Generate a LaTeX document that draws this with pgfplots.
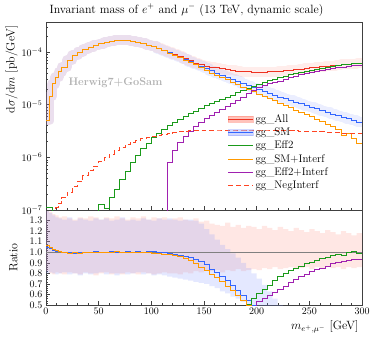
\documentclass[border=0pt]{standalone}
\usepackage{pgfplots}
\pgfplotsset{compat=1.18}
\usepackage{pgfplotstable}
\usepgfplotslibrary{fillbetween}

\definecolor{cAll}{HTML}{EE3322}
\definecolor{cSM}{HTML}{3366FF}
\definecolor{cEff}{HTML}{1A9A1A}
\definecolor{cSMInt}{HTML}{FF9900}
\definecolor{cEffInt}{HTML}{A020B0}
\definecolor{cNeg}{HTML}{FF4422}
\definecolor{bandAll}{HTML}{FF8877}
\definecolor{bandSM}{HTML}{788CFF}

% differential cross sections, 5 GeV bins (finer at threshold)
\pgfplotstableread{
x all sm eff smint effint neg
0 5.0e-6 5.0e-6 1.1e-7 5.0e-6 1e-8 1e-8
3 1.45e-5 1.45e-5 1.1e-7 1.45e-5 1e-8 1e-8
6 2.5e-5 2.5e-5 1e-8 2.5e-5 1e-8 1e-8
9 3.3e-5 3.3e-5 1e-8 3.3e-5 1e-8 1.1e-7
12 4.2e-5 4.2e-5 1e-8 4.2e-5 1e-8 1.35e-7
15 5.2e-5 5.2e-5 1e-8 5.2e-5 1e-8 1.7e-7
20 7.0e-5 7.0e-5 1e-8 7.0e-5 1e-8 2.2e-7
25 8.6e-5 8.6e-5 1e-8 8.6e-5 1e-8 2.8e-7
30 1.0e-4 1.0e-4 1e-8 1.0e-4 1e-8 3.5e-7
35 1.12e-4 1.12e-4 1e-8 1.12e-4 1e-8 4.5e-7
40 1.23e-4 1.23e-4 1e-8 1.23e-4 1e-8 5.6e-7
45 1.34e-4 1.34e-4 1e-8 1.34e-4 1e-8 6.8e-7
50 1.44e-4 1.44e-4 1.3e-7 1.44e-4 1e-8 8.2e-7
55 1.53e-4 1.53e-4 1.05e-7 1.53e-4 1e-8 1.0e-6
60 1.60e-4 1.60e-4 1.7e-7 1.60e-4 1e-8 1.15e-6
65 1.65e-4 1.65e-4 2.5e-7 1.65e-4 1e-8 1.35e-6
70 1.67e-4 1.67e-4 3.8e-7 1.67e-4 1e-8 1.55e-6
75 1.65e-4 1.65e-4 5.5e-7 1.65e-4 1e-8 1.75e-6
80 1.60e-4 1.60e-4 8.0e-7 1.60e-4 1e-8 1.95e-6
85 1.53e-4 1.53e-4 1.1e-6 1.53e-4 1e-8 2.1e-6
90 1.45e-4 1.45e-4 1.45e-6 1.45e-4 1e-8 2.25e-6
95 1.36e-4 1.36e-4 1.85e-6 1.36e-4 1e-8 2.4e-6
100 1.27e-4 1.27e-4 2.4e-6 1.26e-4 1e-8 2.5e-6
105 1.17e-4 1.16e-4 2.9e-6 1.15e-4 1e-8 2.6e-6
110 1.07e-4 1.06e-4 3.4e-6 1.05e-4 1e-8 2.7e-6
115 9.8e-5 9.6e-5 4.0e-6 9.5e-5 8.0e-7 2.85e-6
120 9.0e-5 8.7e-5 4.6e-6 8.6e-5 1.35e-6 2.95e-6
125 8.2e-5 7.9e-5 5.2e-6 7.8e-5 1.9e-6 3.05e-6
130 7.5e-5 7.2e-5 5.9e-6 7.0e-5 2.5e-6 3.15e-6
135 6.8e-5 6.5e-5 6.7e-6 6.3e-5 3.1e-6 3.2e-6
140 6.1e-5 5.9e-5 7.6e-6 5.7e-5 3.8e-6 3.25e-6
145 5.7e-5 5.4e-5 8.5e-6 5.1e-5 4.6e-6 3.25e-6
150 5.4e-5 4.9e-5 9.5e-6 4.5e-5 5.4e-6 3.3e-6
155 5.2e-5 4.4e-5 1.05e-5 3.95e-5 6.3e-6 3.3e-6
160 5.0e-5 3.95e-5 1.15e-5 3.6e-5 7.2e-6 3.3e-6
165 4.8e-5 3.6e-5 1.28e-5 3.25e-5 8.2e-6 3.3e-6
170 4.6e-5 3.3e-5 1.4e-5 2.95e-5 9.4e-6 3.3e-6
175 4.45e-5 3.0e-5 1.52e-5 2.65e-5 1.07e-5 3.3e-6
180 4.35e-5 2.75e-5 1.7e-5 2.4e-5 1.22e-5 3.3e-6
185 4.25e-5 2.5e-5 1.85e-5 2.15e-5 1.4e-5 3.3e-6
190 4.2e-5 2.3e-5 2.05e-5 1.95e-5 1.6e-5 3.3e-6
195 4.15e-5 2.1e-5 2.25e-5 1.75e-5 1.85e-5 3.3e-6
200 4.15e-5 1.95e-5 2.45e-5 1.58e-5 2.1e-5 3.3e-6
205 4.15e-5 1.8e-5 2.65e-5 1.44e-5 2.3e-5 3.3e-6
210 4.2e-5 1.65e-5 2.85e-5 1.3e-5 2.5e-5 3.3e-6
215 4.25e-5 1.52e-5 3.05e-5 1.18e-5 2.65e-5 3.25e-6
220 4.3e-5 1.4e-5 3.25e-5 1.07e-5 2.8e-5 3.25e-6
225 4.4e-5 1.3e-5 3.45e-5 9.6e-6 3.0e-5 3.25e-6
230 4.5e-5 1.2e-5 3.7e-5 8.7e-6 3.25e-5 3.2e-6
235 4.6e-5 1.12e-5 3.95e-5 7.9e-6 3.5e-5 3.2e-6
240 4.75e-5 1.04e-5 4.15e-5 7.1e-6 3.7e-5 3.15e-6
245 4.85e-5 9.6e-6 4.35e-5 6.5e-6 3.9e-5 3.15e-6
250 5.0e-5 8.9e-6 4.55e-5 5.9e-6 4.1e-5 3.1e-6
255 5.1e-5 8.3e-6 4.75e-5 5.3e-6 4.3e-5 3.1e-6
260 5.25e-5 7.7e-6 4.95e-5 4.8e-6 4.5e-5 3.05e-6
265 5.4e-5 7.1e-6 5.15e-5 4.3e-6 4.7e-5 3.0e-6
270 5.5e-5 6.6e-6 5.3e-5 3.8e-6 4.9e-5 3.0e-6
275 5.65e-5 6.2e-6 5.5e-5 3.4e-6 5.05e-5 2.95e-6
280 5.8e-5 5.8e-6 5.7e-5 2.6e-6 5.2e-5 2.9e-6
285 5.9e-5 5.4e-6 5.85e-5 2.8e-6 5.35e-5 2.9e-6
290 6.0e-5 5.0e-6 6.0e-5 2.3e-6 5.5e-5 2.85e-6
295 6.15e-5 4.7e-6 6.1e-5 1.8e-6 5.65e-5 2.85e-6
300 6.15e-5 4.7e-6 6.1e-5 1.8e-6 5.65e-5 2.85e-6
}\spectra

% ratios to gg_All and the scale bands
\pgfplotstableread{
x rsm rsmint reff reffint alllo allhi smlo smhi
0 1.05 1.06 0.3 0.3 0.82 1.40 0.80 1.40
3 1.04 1.05 0.3 0.3 0.80 1.38 0.81 1.37
6 1.02 1.03 0.3 0.3 0.79 1.36 0.80 1.35
9 1.01 1.02 0.3 0.3 0.81 1.35 0.79 1.33
12 1.01 1.01 0.3 0.3 0.80 1.33 0.80 1.32
15 1.00 1.00 0.3 0.3 0.79 1.34 0.81 1.31
20 1.00 0.99 0.3 0.3 0.81 1.32 0.79 1.33
25 0.99 1.00 0.3 0.3 0.80 1.31 0.80 1.30
30 1.00 0.99 0.3 0.3 0.79 1.33 0.78 1.32
35 1.00 1.00 0.3 0.3 0.81 1.32 0.80 1.31
40 1.00 1.00 0.3 0.3 0.80 1.34 0.79 1.30
45 1.01 1.00 0.3 0.3 0.78 1.33 0.80 1.32
50 1.00 1.00 0.3 0.3 0.80 1.31 0.81 1.31
55 1.00 1.00 0.3 0.3 0.81 1.33 0.79 1.32
60 1.01 1.00 0.3 0.3 0.79 1.32 0.80 1.30
65 1.00 1.01 0.3 0.3 0.80 1.34 0.78 1.31
70 1.00 1.00 0.3 0.3 0.79 1.32 0.80 1.33
75 1.01 1.00 0.3 0.3 0.81 1.31 0.79 1.30
80 1.00 1.00 0.3 0.3 0.80 1.33 0.80 1.31
85 1.01 1.00 0.3 0.3 0.79 1.32 0.81 1.30
90 1.00 1.00 0.3 0.3 0.81 1.34 0.79 1.32
95 1.01 1.00 0.3 0.3 0.80 1.31 0.80 1.31
100 1.01 0.99 0.3 0.3 0.79 1.33 0.78 1.30
105 1.00 0.99 0.3 0.3 0.80 1.32 0.79 1.32
110 1.00 0.98 0.3 0.3 0.81 1.33 0.78 1.31
115 0.99 0.98 0.3 0.3 0.80 1.31 0.77 1.32
120 0.98 0.97 0.3 0.3 0.80 1.32 0.76 1.31
125 0.97 0.96 0.3 0.3 0.79 1.33 0.75 1.30
130 0.96 0.94 0.3 0.3 0.81 1.31 0.74 1.31
135 0.95 0.92 0.3 0.3 0.80 1.30 0.73 1.31
140 0.93 0.89 0.3 0.3 0.82 1.32 0.72 1.30
145 0.91 0.86 0.3 0.3 0.81 1.29 0.71 1.27
150 0.88 0.83 0.3 0.3 0.83 1.30 0.70 1.22
155 0.84 0.79 0.3 0.3 0.82 1.27 0.68 1.17
160 0.81 0.76 0.3 0.3 0.83 1.26 0.66 1.12
165 0.77 0.72 0.3 0.3 0.81 1.25 0.63 1.07
170 0.73 0.68 0.3 0.3 0.83 1.28 0.61 1.03
175 0.69 0.64 0.3 0.3 0.82 1.24 0.58 0.99
180 0.64 0.59 0.3 0.3 0.84 1.26 0.56 0.95
185 0.59 0.54 0.3 0.3 0.82 1.23 0.53 0.90
190 0.54 0.50 0.51 0.3 0.83 1.25 0.51 0.85
195 0.50 0.3 0.56 0.3 0.84 1.24 0.48 0.80
200 0.3 0.3 0.61 0.53 0.83 1.22 0.45 0.75
205 0.3 0.3 0.65 0.56 0.85 1.25 0.42 0.69
210 0.3 0.3 0.69 0.59 0.84 1.23 0.40 0.63
215 0.3 0.3 0.73 0.62 0.86 1.21 0.40 0.56
220 0.3 0.3 0.77 0.65 0.84 1.24 0.40 0.50
225 0.3 0.3 0.80 0.68 0.85 1.22 0.40 0.40
230 0.3 0.3 0.83 0.71 0.86 1.20 0.40 0.40
235 0.3 0.3 0.85 0.74 0.84 1.23 0.40 0.40
240 0.3 0.3 0.87 0.77 0.85 1.21 0.40 0.40
245 0.3 0.3 0.89 0.79 0.86 1.19 0.40 0.40
250 0.3 0.3 0.90 0.82 0.84 1.22 0.40 0.40
255 0.3 0.3 0.92 0.84 0.86 1.20 0.40 0.40
260 0.3 0.3 0.94 0.85 0.85 1.18 0.40 0.40
265 0.3 0.3 0.95 0.87 0.87 1.21 0.40 0.40
270 0.3 0.3 0.97 0.89 0.85 1.19 0.40 0.40
275 0.3 0.3 0.98 0.90 0.86 1.17 0.40 0.40
280 0.3 0.3 0.97 0.91 0.84 1.20 0.40 0.40
285 0.3 0.3 1.00 0.92 0.86 1.18 0.40 0.40
290 0.3 0.3 1.01 0.93 0.85 1.16 0.40 0.40
295 0.3 0.3 0.99 0.93 0.86 1.18 0.40 0.40
300 0.3 0.3 0.99 0.93 0.86 1.18 0.40 0.40
}\ratios

\pgfplotsset{
  rivet/.style={
    scale only axis, width=316pt,
    xmin=0, xmax=300,
    xtick={0,50,...,300}, minor x tick num=4,
    tick align=inside, xtick pos=left, ytick pos=left,
    major tick length=4pt, minor tick length=2pt,
    axis line style={black!75}, every tick/.style={black!75},
    tick label style={font=\normalsize},
    label style={font=\fontsize{12}{14}\selectfont},
    clip=true,
  },
  hist/.style={const plot, line width=0.8pt},
}

\begin{document}
\begin{tikzpicture}
\begin{axis}[rivet, name=main,
    height=188pt,
    ymode=log, ymin=1e-7, ymax=3.7e-4,
    xticklabels={},
    ylabel={$\mathrm{d}\sigma/\mathrm{d}m$ [pb/GeV]},
    ylabel style={at={(axis description cs:-0.079,1)}, anchor=south east},
    title={Invariant mass of $e^+$ and $\mu^-$ (13 TeV, dynamic scale)},
    title style={at={(axis description cs:0,1)}, anchor=base west, font=\fontsize{12}{14}\selectfont, yshift=3pt},
    legend style={at={(axis description cs:0.565,0.53)}, anchor=north west, draw=none, fill=none, font=\fontsize{11}{13}\selectfont, row sep=0pt},
    legend cell align=left,
    legend image code/.code={\draw[#1] (0pt,0pt) -- (25pt,0pt);},
  ]
  % scale bands, constant width in log space
  \addplot[const plot, bandAll, opacity=0.15, line width=10pt, line join=round, forget plot] table[y=all]{\spectra};
  \addplot[const plot, bandSM, opacity=0.15, line width=10pt, line join=round, forget plot] table[y=sm]{\spectra};

  \addplot[hist, cAll, legend image code/.code={
      \fill[bandAll, opacity=0.5] (0pt,-3pt) rectangle (25pt,3pt);
      \draw[cAll, line width=0.8pt] (0pt,0pt) -- (25pt,0pt);}] table[y=all]{\spectra};
  \addlegendentry{gg\_All}
  \addplot[hist, cSM, legend image code/.code={
      \fill[bandSM, opacity=0.35] (0pt,-3pt) rectangle (25pt,3pt);
      \draw[cSM, line width=0.8pt] (0pt,0pt) -- (25pt,0pt);}] table[y=sm]{\spectra};
  \addlegendentry{gg\_SM}
  \addplot[hist, cEff] table[y=eff]{\spectra};
  \addlegendentry{gg\_Eff2}
  \addplot[hist, cSMInt] table[y=smint]{\spectra};
  \addlegendentry{gg\_SM+Interf}
  \addplot[hist, cEffInt] table[y=effint]{\spectra};
  \addlegendentry{gg\_Eff2+Interf}
  \addplot[hist, cNeg, dash pattern=on 5pt off 3pt] table[y=neg]{\spectra};
  \addlegendentry{gg\_NegInterf}

  \node[text=black!30, font=\fontsize{11}{13}\selectfont\bfseries] at (rel axis cs:0.22,0.675) {Herwig7+GoSam};
\end{axis}

\begin{axis}[rivet, at={(main.south west)}, anchor=north west,
    height=95pt,
    ymin=0.5, ymax=1.4,
    ytick={0.5,0.6,...,1.31}, minor y tick num=4,
    yticklabel style={/pgf/number format/.cd, fixed, fixed zerofill, precision=1},
    ylabel={Ratio},
    ylabel style={at={(axis description cs:-0.079,0.5)}, anchor=south},
    xlabel={$m_{e^+,\mu^-}$ [GeV]},
    xlabel style={at={(axis description cs:1,0)}, anchor=north east, yshift=-12pt},
  ]
  \addplot[const plot, draw=none, name path=alo, forget plot] table[y=alllo]{\ratios};
  \addplot[const plot, draw=none, name path=ahi, forget plot] table[y=allhi]{\ratios};
  \addplot[bandAll, fill opacity=0.2, forget plot] fill between[of=alo and ahi];
  \addplot[const plot, draw=none, name path=slo, forget plot] table[y=smlo]{\ratios};
  \addplot[const plot, draw=none, name path=shi, forget plot] table[y=smhi]{\ratios};
  \addplot[bandSM, fill opacity=0.2, forget plot] fill between[of=slo and shi];

  \addplot[black!50, line width=0.8pt] coordinates {(0,1) (300,1)};
  \addplot[hist, cSM] table[y=rsm]{\ratios};
  \addplot[hist, cEff] table[y=reff]{\ratios};
  \addplot[hist, cSMInt] table[y=rsmint]{\ratios};
  \addplot[hist, cEffInt] table[y=reffint]{\ratios};
\end{axis}

\pgfresetboundingbox
\path[use as bounding box] (-46pt,-127pt) rectangle (328pt,210pt);
\end{tikzpicture}
\end{document}
